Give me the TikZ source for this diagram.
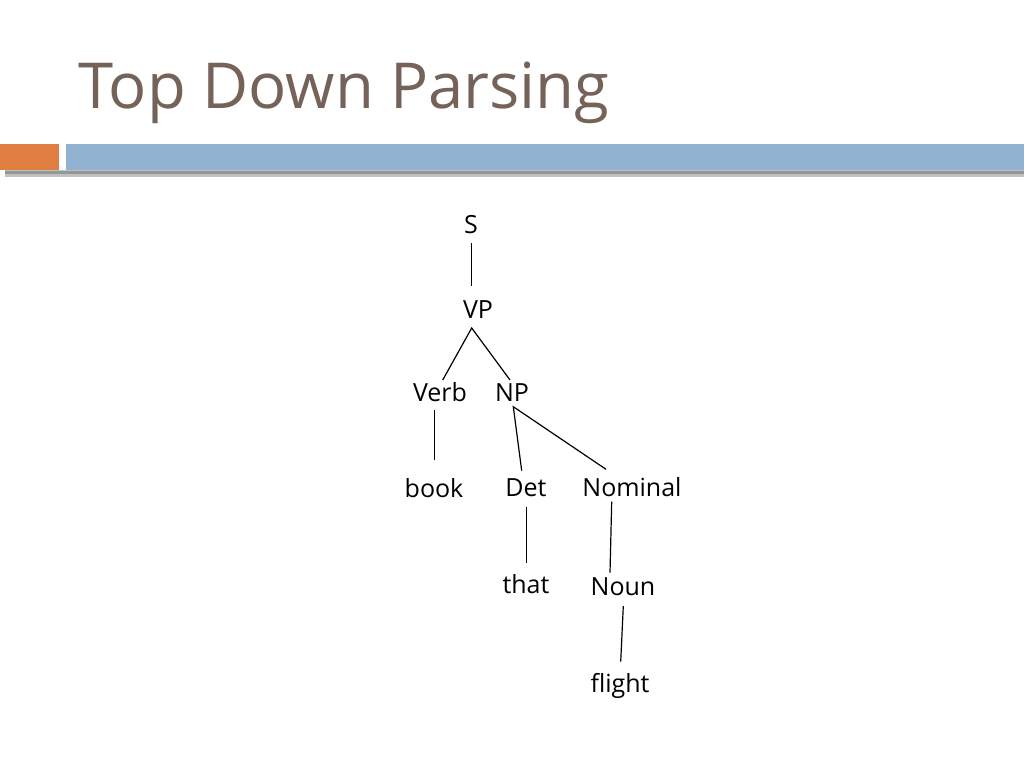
\documentclass[tikz,border=0pt]{standalone}
\usepackage{fontspec}
\setmainfont{Open Sans}
\definecolor{titlecol}{RGB}{117,98,88}
\definecolor{orangebar}{RGB}{224,125,65}
\definecolor{bluebar}{RGB}{145,178,209}
\definecolor{shadowcol}{RGB}{150,150,150}
\tikzset{
  lbl/.style={anchor=base, inner sep=0pt, font=\fontsize{25}{29}\selectfont},
  edge/.style={line width=1.2pt, black}
}
\begin{document}
\begin{tikzpicture}[x=1pt,y=-1pt]
\useasboundingbox (0,0) rectangle (1024,768);
% header bars
\fill[shadowcol!60] (5,170) rectangle (1024,177);
\fill[shadowcol] (5,171) rectangle (1024,174);
\fill[orangebar] (0,143.5) rectangle (59,169.5);
\fill[bluebar] (66,143.5) rectangle (1024,170);
% title
\node[anchor=base west, inner sep=0pt, text=titlecol, font=\fontsize{63.4}{70}\selectfont] (title) at (78,108) {Top Down Parsing};
% tree labels
\node[lbl] (S) at (471,233) {S};
\node[lbl] (VP) at (478,318) {VP};
\node[lbl] (Verb) at (440,401) {Verb};
\node[lbl] (NP) at (512,401) {NP};
\node[lbl] (book) at (434,497) {book};
\node[lbl] (Det) at (526,496) {Det};
\node[lbl] (Nominal) at (632,496) {Nominal};
\node[lbl] (that) at (526,593) {that};
\node[lbl] (Noun) at (623,595) {Noun};
\node[lbl] (flight) at (620,692) {flight};
% connector end points
\coordinate (s1) at (471.7,243);   \coordinate (vp1) at (471.7,286);
\coordinate (vp2) at (471.7,328);  \coordinate (verb1) at (442.7,380);
\coordinate (np1) at (510,380);
\coordinate (verb2) at (434.3,410); \coordinate (book1) at (434.3,460);
\coordinate (np2) at (513.3,406.7); \coordinate (det1) at (521.7,470.7);
\coordinate (nom1) at (606,469.3);
\coordinate (det2) at (526.7,506.7); \coordinate (that1) at (526.7,562.7);
\coordinate (nom2) at (611.7,501.7); \coordinate (noun1) at (610,572.7);
\coordinate (noun2) at (623.3,606);  \coordinate (flight1) at (620.7,661.7);
% connectors
\draw[edge] (s1) -- (vp1);
\draw[edge] (verb1) -- (vp2) -- (np1);
\draw[edge] (verb2) -- (book1);
\draw[edge] (det1) -- (np2) -- (nom1);
\draw[edge] (det2) -- (that1);
\draw[edge] (nom2) -- (noun1);
\draw[edge] (noun2) -- (flight1);
\end{tikzpicture}
\end{document}
